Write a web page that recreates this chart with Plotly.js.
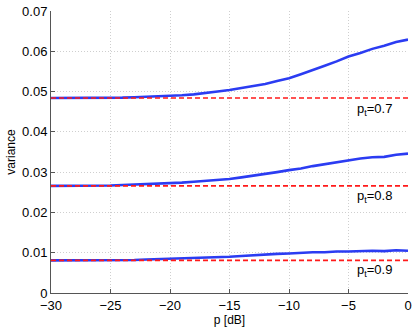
<!DOCTYPE html>
<html>
<head>
<meta charset="utf-8">
<script src="https://cdn.plot.ly/plotly-3.0.1.min.js"></script>
<style>
  html, body { margin: 0; padding: 0; background: #fff; }
  #chart { width: 415px; height: 327px; }
</style>
</head>
<body>
<div id="chart"></div>
<script>
// p [dB] sample points
const pDb = [-30, -29, -28, -27, -26, -25, -24, -23, -22, -21, -20, -19, -18, -17, -16, -15,
             -14, -13, -12, -11, -10, -9, -8, -7, -6, -5, -4, -3, -2, -1, 0];

// simulated variance, one series per p_t
const var07 = [0.0484, 0.0484, 0.0484, 0.0484, 0.0485, 0.0485, 0.0485, 0.0486, 0.0487, 0.0488, 0.0489,
               0.0491, 0.0493, 0.0496, 0.0500, 0.0504, 0.0509, 0.0514, 0.0519, 0.0526, 0.0533,
               0.0543, 0.0553, 0.0564, 0.0575, 0.0587, 0.0596, 0.0606, 0.0614, 0.0623, 0.0629];
const var08 = [0.0266, 0.0266, 0.0266, 0.0267, 0.0267, 0.0267, 0.0268, 0.0269, 0.0270, 0.0271, 0.0272,
               0.0274, 0.0276, 0.0278, 0.0281, 0.0283, 0.0287, 0.0291, 0.0295, 0.0300, 0.0305,
               0.0309, 0.0315, 0.0320, 0.0325, 0.0330, 0.0334, 0.0337, 0.0338, 0.0343, 0.0346];
const var09 = [0.0081, 0.0081, 0.0081, 0.0081, 0.0081, 0.0081, 0.0082, 0.0082, 0.0083, 0.0084, 0.0084,
               0.0085, 0.0086, 0.0088, 0.0089, 0.0090, 0.0092, 0.0094, 0.0095, 0.0097, 0.0098,
               0.0100, 0.0101, 0.0101, 0.0103, 0.0103, 0.0104, 0.0105, 0.0104, 0.0106, 0.0105];

// theoretical limits (dashed) and their labels
const limits = [0.0484, 0.0266, 0.0081];
const limitLabels = ['p<sub>t</sub>=0.7', 'p<sub>t</sub>=0.8', 'p<sub>t</sub>=0.9'];
const labelY = [0.0456, 0.0240, 0.0057];

const font = 'Liberation Sans, Arial, Helvetica, sans-serif';

const traces = [];
[var07, var08, var09].forEach(function(v) {
    traces.push({
        x: pDb, y: v, mode: 'lines',
        line: { color: '#2b3cf2', width: 2.6 },
        hoverinfo: 'skip'
    });
});
limits.forEach(function(l) {
    traces.push({
        x: [pDb[0], pDb[pDb.length - 1]], y: [l, l], mode: 'lines',
        line: { color: '#ff1a1a', width: 1.6, dash: '5px,3px' },
        hoverinfo: 'skip'
    });
});

const annotations = limitLabels.map(function(t, i) {
    return {
        x: -2.8, y: labelY[i], text: t, showarrow: false,
        xanchor: 'center', yanchor: 'middle',
        font: { family: font, size: 13, color: '#000' }
    };
});

const layout = {
    width: 415,
    height: 327,
    margin: { l: 51, r: 7, t: 11, b: 34 },
    paper_bgcolor: '#fff',
    plot_bgcolor: '#fff',
    showlegend: false,
    font: { family: font, size: 13, color: '#000' },
    xaxis: {
        range: [-30, 0],
        tickvals: [-30, -25, -20, -15, -10, -5, 0],
        ticktext: ['\u221230', '\u221225', '\u221220', '\u221215', '\u221210', '\u22125', '0'],
        showgrid: true,
        gridcolor: '#cfcfcf',
        griddash: '1px,2px',
        gridwidth: 1,
        zeroline: false,
        showline: true,
        linecolor: '#555',
        linewidth: 1,
        ticks: 'inside',
        ticklen: 4,
        tickcolor: '#555',
        title: { text: 'p [dB]', standoff: 1, font: { size: 12 } }
    },
    yaxis: {
        range: [0, 0.07],
        tickvals: [0, 0.01, 0.02, 0.03, 0.04, 0.05, 0.06, 0.07],
        ticktext: ['0', '0.01', '0.02', '0.03', '0.04', '0.05', '0.06', '0.07'],
        showgrid: true,
        gridcolor: '#cfcfcf',
        griddash: '1px,2px',
        gridwidth: 1,
        zeroline: false,
        showline: true,
        linecolor: '#555',
        linewidth: 1,
        ticks: 'inside',
        ticklen: 4,
        tickcolor: '#555',
        title: { text: 'variance', standoff: 3, font: { size: 12 } }
    },
    annotations: annotations
};

Plotly.newPlot('chart', traces, layout, { staticPlot: true });
</script>
</body>
</html>
